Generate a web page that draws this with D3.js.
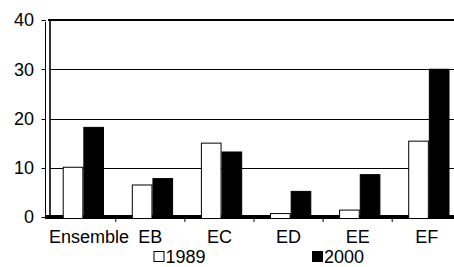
<!DOCTYPE html>
<html><head><meta charset="utf-8">
<script src="https://cdn.jsdelivr.net/npm/d3@7"></script>
<style>body{margin:0;background:#fff}svg{display:block}text{font-family:"Liberation Sans",Arial,sans-serif;fill:#000}</style>
</head><body><svg id="c" width="454" height="267"></svg>
<script>
const categories = ["Ensemble","EB","EC","ED","EE","EF"];
const series = ["1989","2000"];
const values1989 = [10.1, 6.5, 15.0, 0.7, 1.4, 15.4];
const values2000 = [18.2, 7.8, 13.2, 5.2, 8.6, 30.0];
const yTicks = [0,10,20,30,40];
const colors = {"1989":"#fff","2000":"#000"};

const svg = d3.select("#c");
const y = d3.scaleLinear().domain([0,40]).range([217,20]);
const x = d3.scaleBand().domain(categories).range([46.7, 46.7+6*69.1]).padding(0);
const xs = d3.scaleBand().domain(series).range([16, 57.3]).padding(0);
const fs = "18px";

// gridlines
svg.append("g").selectAll("line").data(yTicks.filter(t=>t>0&&t<40)).join("line")
  .attr("x1",50).attr("x2",454).attr("y1",d=>Math.round(y(d))+0.5).attr("y2",d=>Math.round(y(d))+0.5)
  .attr("stroke","#000").attr("stroke-width",1);
// top border
svg.append("line").attr("x1",48).attr("x2",454).attr("y1",y(40)).attr("y2",y(40)).attr("stroke","#000").attr("stroke-width",2);
// left double axis
svg.append("line").attr("x1",45.5).attr("x2",45.5).attr("y1",y(40)+2).attr("y2",219).attr("stroke","#000").attr("stroke-width",1);
svg.append("line").attr("x1",50).attr("x2",50).attr("y1",y(40)-1).attr("y2",219).attr("stroke","#000").attr("stroke-width",1.6);
// y tick marks
svg.append("g").selectAll("line").data(yTicks).join("line")
  .attr("x1",41.5).attr("x2",46).attr("y1",d=>Math.round(y(d))+0.5).attr("y2",d=>Math.round(y(d))+0.5)
  .attr("stroke","#000");
// y labels
svg.append("g").selectAll("text").data(yTicks).join("text")
  .attr("x",34).attr("y",d=>y(d)).attr("dy","0.36em").attr("text-anchor","end").style("font-size",fs).text(d=>d);
// baseline thick strip
svg.append("rect").attr("x",45).attr("y",215).attr("width",409).attr("height",4).attr("fill","#000");
// x tick marks at band boundaries
svg.append("g").selectAll("line").data(categories.slice(1)).join("line")
  .attr("x1",d=>x(d)).attr("x2",d=>x(d)).attr("y1",218).attr("y2",222).attr("stroke","#000");
// bars
const data = categories.map((c,i)=>({c, v:{"1989":values1989[i],"2000":values2000[i]}}));
const g = svg.append("g").selectAll("g").data(data).join("g").attr("transform",d=>`translate(${x(d.c)},0)`);
g.selectAll("rect").data(d=>series.map(s=>({s,v:d.v[s]}))).join("rect")
  .attr("x",d=>xs(d.s)+0.5).attr("width",xs.bandwidth()-1)
  .attr("y",d=>y(d.v)).attr("height",d=>218.5-y(d.v))
  .attr("fill",d=>colors[d.s]).attr("stroke","#000").attr("stroke-width",1);
// x labels
svg.append("g").selectAll("text").data(categories).join("text")
  .attr("x",(d,i)=> i===0 ? 49 : x(d)+x.bandwidth()/2).attr("y",243)
  .attr("text-anchor",(d,i)=> i===0 ? "start" : "middle").style("font-size",fs).text(d=>d);
// legend
const legX = {"1989":153.5,"2000":312};
const lg = svg.append("g").selectAll("g").data(series).join("g").attr("transform",d=>`translate(${legX[d]},0)`);
lg.append("rect").attr("x",0.5).attr("y",251.5).attr("width",10).attr("height",10)
  .attr("fill",d=>colors[d]).attr("stroke","#000");
lg.append("text").attr("x",12).attr("y",262.5).style("font-size",fs).text(d=>d);
</script></body></html>
